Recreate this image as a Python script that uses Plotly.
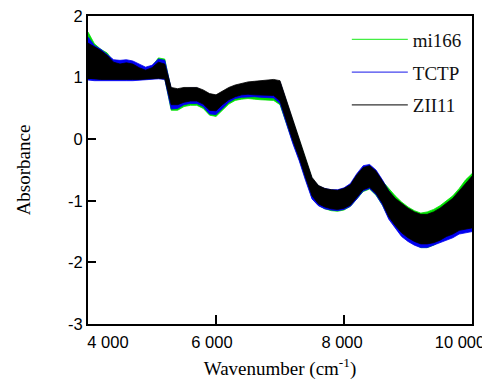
import plotly.graph_objects as go

# Wavenumber grid (cm-1)
wavenumber = [4000, 4100, 4200, 4300, 4400, 4500, 4600, 4700, 4800, 4900,
              5000, 5100, 5200, 5300, 5400, 5500, 5600, 5700, 5800, 5900,
              6000, 6100, 6200, 6300, 6400, 6500, 6600, 6700, 6800, 6900,
              7000, 7100, 7200, 7300, 7400, 7500, 7600, 7700, 7800, 7900,
              8000, 8100, 8200, 8300, 8400, 8500, 8600, 8700, 8800, 8900,
              9000, 9100, 9200, 9300, 9400, 9500, 9600, 9700, 9800, 9900,
              10000]

# Upper / lower envelopes of the spectra of each cultivar
mi166_upper = [1.74, 1.55, 1.46, 1.40, 1.26, 1.24, 1.26, 1.24, 1.20, 1.15,
               1.18, 1.32, 1.30, 0.80, 0.78, 0.80, 0.82, 0.82, 0.77, 0.70,
               0.68, 0.74, 0.80, 0.84, 0.87, 0.89, 0.90, 0.91, 0.92, 0.93,
               0.91, 0.60, 0.27, -0.04, -0.36, -0.64, -0.76, -0.81, -0.83, -0.84,
               -0.81, -0.75, -0.60, -0.46, -0.44, -0.53, -0.68, -0.80, -0.92, -1.02,
               -1.10, -1.16, -1.20, -1.18, -1.14, -1.08, -1.00, -0.92, -0.80, -0.66,
               -0.56]
mi166_lower = [0.98, 0.97, 0.97, 0.96, 0.96, 0.97, 0.97, 0.97, 0.97, 0.97,
               0.98, 0.99, 0.98, 0.47, 0.47, 0.53, 0.55, 0.55, 0.50, 0.39,
               0.37, 0.47, 0.57, 0.63, 0.65, 0.66, 0.65, 0.64, 0.63, 0.63,
               0.56, 0.27, -0.05, -0.33, -0.65, -0.95, -1.07, -1.13, -1.16, -1.17,
               -1.15, -1.09, -0.97, -0.85, -0.81, -0.91, -1.07, -1.28, -1.42, -1.56,
               -1.64, -1.70, -1.76, -1.76, -1.72, -1.66, -1.60, -1.56, -1.50, -1.48,
               -1.46]

tctp_upper = [1.66, 1.52, 1.46, 1.38, 1.29, 1.28, 1.29, 1.27, 1.22, 1.17,
              1.20, 1.30, 1.28, 0.82, 0.80, 0.82, 0.83, 0.83, 0.78, 0.72,
              0.70, 0.76, 0.82, 0.86, 0.89, 0.91, 0.92, 0.93, 0.94, 0.95,
              0.93, 0.62, 0.28, -0.03, -0.35, -0.64, -0.76, -0.80, -0.82, -0.82,
              -0.79, -0.72, -0.56, -0.43, -0.41, -0.50, -0.66, -0.84, -0.98, -1.06,
              -1.14, -1.20, -1.24, -1.24, -1.20, -1.14, -1.06, -0.98, -0.86, -0.74,
              -0.62]
tctp_lower = [0.96, 0.95, 0.95, 0.94, 0.94, 0.95, 0.95, 0.95, 0.95, 0.96,
              0.97, 0.98, 0.97, 0.49, 0.50, 0.56, 0.58, 0.58, 0.53, 0.41,
              0.40, 0.50, 0.60, 0.66, 0.68, 0.69, 0.69, 0.68, 0.67, 0.67,
              0.58, 0.25, -0.07, -0.35, -0.67, -0.97, -1.08, -1.13, -1.15, -1.16,
              -1.14, -1.09, -0.97, -0.84, -0.80, -0.90, -1.07, -1.30, -1.44, -1.58,
              -1.66, -1.72, -1.76, -1.76, -1.73, -1.68, -1.64, -1.60, -1.54, -1.52,
              -1.50]

zii11_upper = [1.56, 1.50, 1.44, 1.36, 1.25, 1.22, 1.24, 1.22, 1.16, 1.12,
               1.16, 1.25, 1.22, 0.84, 0.82, 0.84, 0.84, 0.84, 0.80, 0.74,
               0.72, 0.78, 0.84, 0.88, 0.91, 0.93, 0.94, 0.95, 0.96, 0.97,
               0.95, 0.64, 0.30, 0.00, -0.32, -0.62, -0.75, -0.80, -0.82, -0.83,
               -0.80, -0.74, -0.58, -0.46, -0.43, -0.52, -0.68, -0.84, -0.96, -1.04,
               -1.12, -1.18, -1.22, -1.22, -1.18, -1.12, -1.04, -0.96, -0.84, -0.72,
               -0.60]
zii11_lower = [0.99, 0.98, 0.97, 0.96, 0.96, 0.97, 0.97, 0.97, 0.97, 0.97,
               0.98, 0.99, 0.98, 0.56, 0.56, 0.60, 0.62, 0.62, 0.57, 0.47,
               0.46, 0.56, 0.64, 0.69, 0.72, 0.73, 0.72, 0.72, 0.71, 0.71,
               0.62, 0.30, -0.02, -0.30, -0.62, -0.92, -1.05, -1.10, -1.13, -1.14,
               -1.12, -1.07, -0.94, -0.82, -0.78, -0.88, -1.04, -1.26, -1.40, -1.52,
               -1.60, -1.66, -1.70, -1.70, -1.68, -1.64, -1.58, -1.54, -1.48, -1.46,
               -1.44]

series_names = ["mi166", "TCTP", "ZII11"]
band_colors = ["#00e000", "#0000f0", "#000000"]
legend_colors = ["#44ee44", "#4444ee", "#333333"]

y_ticks = [-3, -2, -1, 0, 1, 2]
y_ticktext = ["-3", "-2", "-1", "0", "1", "2"]
x_ticks = [4000, 6000, 8000, 10000]
x_label_pos = [4312, 5937, 7969, 9812]
x_ticktext = ["4 000", "6 000", "8 000", "10 000"]

bands = [(mi166_upper, mi166_lower), (tctp_upper, tctp_lower), (zii11_upper, zii11_lower)]

fig = go.Figure()
for (up, lo), col in zip(bands, band_colors):
    fig.add_trace(go.Scatter(
        x=wavenumber + wavenumber[::-1],
        y=up + lo[::-1],
        mode="lines", fill="toself", fillcolor=col,
        line=dict(color=col, width=0.8),
        showlegend=False, hoverinfo="skip"))

for i, (name, col) in enumerate(zip(series_names, legend_colors)):
    fig.add_trace(go.Scatter(
        x=[None], y=[None], mode="lines", name=name,
        line=dict(color=col, width=1.2),
        legendgroup=name, xaxis="x2"))

serif = "Liberation Serif, Times New Roman, serif"
sans = "Liberation Sans, Arial, sans-serif"

# page body has an 8px margin, so the figure is sized 8px smaller
fig.update_layout(
    width=482, height=372,
    margin=dict(l=80, r=18, t=8, b=56, autoexpand=False),
    plot_bgcolor="white", paper_bgcolor="white",
    showlegend=True,
    legend=dict(x=0.674, y=0.985, xanchor="left", yanchor="top",
                font=dict(family=serif, size=19, color="#111"),
                bgcolor="rgba(0,0,0,0)", itemwidth=56, tracegroupgap=5),
    xaxis=dict(range=[4000, 10000], tickvals=x_ticks, ticks="inside",
               ticklen=9, tickwidth=1.5, tickcolor="black",
               showticklabels=False, showline=True, linecolor="black",
               linewidth=2, mirror=True, showgrid=False, zeroline=False),
    xaxis2=dict(range=[4000, 10000], overlaying="x", anchor="y", side="bottom",
                tickvals=x_label_pos, ticktext=x_ticktext, ticks="",
                showline=False, showgrid=False, zeroline=False,
                ticklabeloverflow="allow",
                tickfont=dict(family=sans, size=16.5, color="black"),
                ticklabelstandoff=6,
                title=dict(text="Wavenumber (cm<sup>-1</sup>)",
                           font=dict(family=serif, size=19, color="black"),
                           standoff=13)),
    yaxis=dict(range=[-3, 2], tickvals=y_ticks, ticktext=y_ticktext,
               ticks="inside", ticklen=8, tickwidth=1.5, tickcolor="black",
               showline=True, linecolor="black", linewidth=2, mirror=True,
               showgrid=False, zeroline=False, ticklabeloverflow="allow",
               tickfont=dict(family=sans, size=16.5, color="black"),
               title=dict(text="Absorbance",
                          font=dict(family=serif, size=19, color="black"),
                          standoff=32)),
)

fig.write_html("out.html")
